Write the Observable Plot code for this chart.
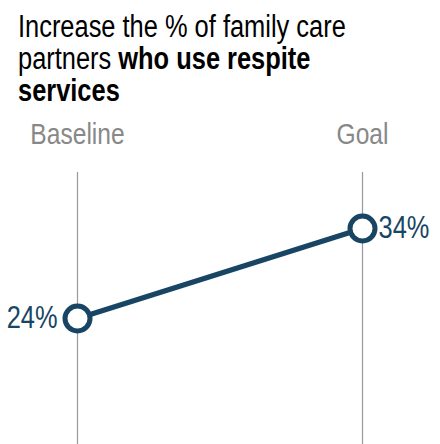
<!DOCTYPE html>
<html>
<head>
<meta charset="utf-8">
<script src="https://cdn.jsdelivr.net/npm/d3@7"></script>
<script src="https://cdn.jsdelivr.net/npm/@observablehq/plot@0.6"></script>
<style>
  html, body { margin: 0; padding: 0; background: #fff; width: 440px; height: 444px; overflow: hidden; }
  .title { font-family: "Liberation Sans", Arial, sans-serif; font-size: 31px; line-height: 32px; color: #000; padding: 11px 0 0 18px; height: 95px; white-space: nowrap; }
  .title .inner { display: inline-block; transform: scaleX(0.82); transform-origin: 0 0; }
  .title b { font-weight: bold; }
  svg { display: block; }
</style>
</head>
<body>
<div class="title"><div class="inner">Increase the % of family care<br>partners <b>who use respite</b><br><b>services</b></div></div>
<div id="chart"></div>
<script>
const categories = ["Baseline", "Goal"];
const values = [24, 34];
const labels = ["24%", "34%"];

const data = categories.map((c, i) => ({cat: c, value: values[i], label: labels[i]}));
const navy = "#184563";
const font = "'Liberation Sans', Arial, sans-serif";

const chart = Plot.plot({
  width: 440,
  height: 338,
  marginTop: 66,
  marginBottom: 0,
  marginLeft: 77,
  marginRight: 78,
  style: {fontFamily: font, background: "#fff", overflow: "visible"},
  x: {type: "point", domain: categories, padding: 0, axis: null},
  y: {domain: [24, 34], range: [212, 122], axis: null},
  marks: [
    Plot.ruleX(categories, {stroke: "#999", strokeWidth: 1.2}),
    Plot.axisX({anchor: "top", tickSize: 0, tickPadding: 29, fontSize: 30, fill: "#888", label: null}),
    Plot.line(data, {x: "cat", y: "value", stroke: navy, strokeWidth: 5.5}),
    Plot.dot(data, {x: "cat", y: "value", r: 12.5, fill: "#fff", stroke: navy, strokeWidth: 5}),
    Plot.text(data.filter(d => d.cat === "Baseline"), {x: "cat", y: "value", text: "label", textAnchor: "end", dx: -20, fontSize: 31, fill: navy}),
    Plot.text(data.filter(d => d.cat === "Goal"), {x: "cat", y: "value", text: "label", textAnchor: "start", dx: 16, fontSize: 31, fill: navy})
  ]
});
document.getElementById("chart").appendChild(chart);

// emulate a narrow (condensed) typeface: compress every text horizontally about its anchor
const k = 0.82;
chart.querySelectorAll("text").forEach(el => {
  const b = el.getBBox();
  const anchor = getComputedStyle(el).textAnchor;
  const ax = anchor === "end" ? b.x + b.width : anchor === "middle" ? b.x + b.width / 2 : b.x;
  const prev = el.getAttribute("transform") || "";
  el.setAttribute("transform", `${prev} translate(${ax},0) scale(${k},1) translate(${-ax},0)`.trim());
});
</script>
</body>
</html>
